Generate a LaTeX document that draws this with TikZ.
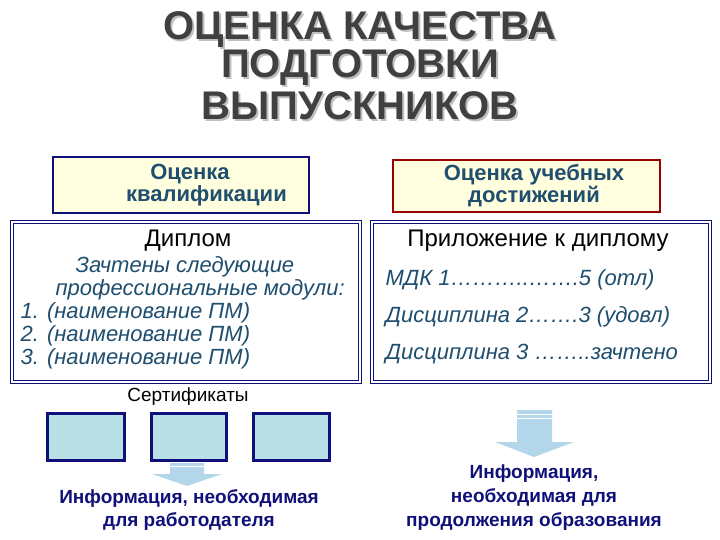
\documentclass[tikz,border=0pt]{standalone}
\usepackage{fontspec}
\setmainfont{Liberation Sans}
\usetikzlibrary{shapes.arrows}
\definecolor{navy}{HTML}{10107A}
\definecolor{teal}{HTML}{1F4E6E}
\definecolor{yel}{HTML}{FFFFE0}
\definecolor{cy}{HTML}{B8E0E6}
\definecolor{arr}{HTML}{B4D6EA}
\tikzset{
 hdr/.style={draw=#1,line width=2pt,fill=yel,inner sep=0pt},
 big/.style={draw=navy,double=white,line width=1.2pt,double distance=1.2pt,fill=white},
 cert/.style={draw=navy,line width=3pt,fill=cy},
 ttl/.style={font=\bfseries\fontsize{40}{40}\selectfont,text=black!75,inner sep=0pt},
 tx/.style={font=\fontsize{24}{26}\selectfont},
 it/.style={font=\itshape\fontsize{22}{24}\selectfont,text=teal},
 bt/.style={font=\bfseries\fontsize{19}{24}\selectfont,text=navy,align=center},
 hb/.style={font=\bfseries\fontsize{22}{22}\selectfont,text=teal,align=center},
 dn/.style={fill=arr,draw=none}
}
\begin{document}
\begin{tikzpicture}[x=1pt,y=-1pt]
\useasboundingbox (0,0) rectangle (720,540);
\foreach \t/\y [count=\i] in {ОЦЕНКА КАЧЕСТВА/30,ПОДГОТОВКИ/68,ВЫПУСКНИКОВ/106}{
 \node[ttl,text=gray!50] at (362,\y+2) {\t};
 \node[ttl] (t\i) at (360,\y) {\t};}
\draw[hdr=navy] (53,157) rectangle (309,213);
\node[hb] (h1) at (190,185) {Оценка\\\hspace{1.5em}квалификации};
\draw[hdr=red!60!black] (393,160) rectangle (660,212);
\node[hb] (h2) at (534,186) {Оценка учебных\\достижений};
\draw[big] (12,222) rectangle (360,382);
\draw[big] (372,222) rectangle (710,382);
\node[tx] (dip) at (188,241) {Диплом};
\node[it,anchor=west] (z1) at (72,267) {Зачтены следующие};
\node[it,anchor=west] (z2) at (52,290) {профессиональные модули:};
\node[it,anchor=west] (z3) at (17,313) {1. (наименование ПМ)};
\node[it,anchor=west] (z4) at (17,336) {2. (наименование ПМ)};
\node[it,anchor=west] (z5) at (17,359) {3. (наименование ПМ)};
\node[tx] (pr) at (538,241) {Приложение к диплому};
\node[it,anchor=west] (m1) at (382,280) {МДК 1………..…….5 (отл)};
\node[it,anchor=west] (m2) at (382,317) {Дисциплина 2…….3 (удовл)};
\node[it,anchor=west] (m3) at (382,354) {Дисциплина 3 ……..зачтено};
\node[font=\fontsize{19}{20}\selectfont] (sert) at (188,397) {Сертификаты};
\draw[cert] (47,413) rectangle (124,460);
\draw[cert] (151,413) rectangle (226,460);
\draw[cert] (253,413) rectangle (329,460);
\fill[dn] (170,463) rectangle (204,474) -- (222,474) -- (187,486) -- (152,474) -- (170,474);
\draw[white,line width=0.8pt] (170,466) -- (204,466);
\fill[dn] (517,410) -- (552,410) -- (552,442) -- (574,442) -- (534,457) -- (495,442) -- (517,442) -- cycle;
\draw[white,line width=0.8pt] (517,414) -- (552,414) (517,418) -- (552,418);
\node[bt] (i1) at (189,510) {Информация, необходимая\\для работодателя};
\node[bt] (i2) at (534,498) {Информация,\\необходимая для\\продолжения образования};
\end{tikzpicture}
\end{document}
